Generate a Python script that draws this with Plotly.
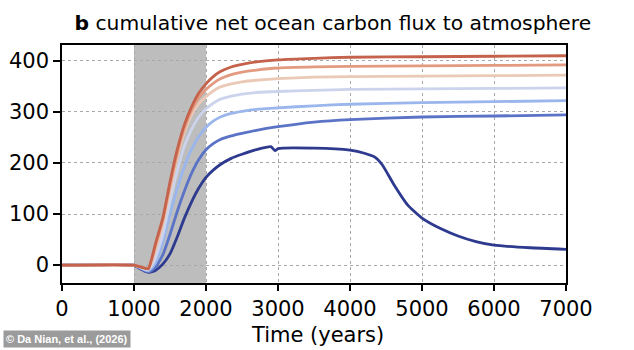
import plotly.graph_objects as go

time = [0, 1000, 1050, 1100, 1150, 1200, 1250, 1300, 1400, 1500, 1600, 1700, 1800, 1900,
        2000, 2100, 2200, 2350, 2500, 2700, 3000, 3500, 4000, 5000, 6000, 7000]

red = [0, 0, -2, -4, -6, -7, 15, 43, 92, 163, 226, 275, 310, 337,
       355, 369, 379, 388, 393, 398, 402, 405, 407, 408, 409, 410]
salmon = [0, 0, -2, -4, -6, -7, 12, 38, 88, 155, 218, 268, 303, 328,
          344, 356, 365, 373, 378, 382, 386, 388, 389, 390, 391, 392]
peach = [0, 0, -2, -4, -6, -7, 8, 30, 80, 145, 210, 260, 294, 316,
         330, 341, 349, 355, 359, 362, 365, 368, 369, 370, 371, 372]
lavender = [0, 0, -2, -5, -8, -9, 0, 15, 60, 125, 185, 233, 266, 290,
            306, 317, 325, 331, 335, 338, 340, 342, 344, 345, 346, 347]
lightblue = [0, 0, -3, -6, -9, -11, -5, 5, 45, 100, 150, 193, 227, 252,
             270, 282, 290, 297, 301, 305, 308, 312, 315, 318, 320, 322]
medblue = [0, 0, -3, -7, -11, -13, -10, -4, 20, 60, 105, 145, 180, 207,
           226, 238, 246, 253, 258, 264, 271, 280, 285, 290, 292, 294]

navy_time = [0, 1000, 1050, 1100, 1150, 1200, 1250, 1300, 1400, 1500, 1600, 1700, 1800, 1900,
             2000, 2100, 2200, 2350, 2500, 2700, 2900, 2960, 3000, 3500, 4000, 4200, 4350,
             4450, 4600, 4800, 5000, 5250, 5500, 5750, 6000, 6500, 7000]
navy = [0, 0, -4, -8, -12, -14, -13, -10, 2, 22, 55, 92, 124, 151,
        172, 186, 197, 209, 217, 226, 232, 224, 228, 229, 225, 219, 211,
        196, 160, 118, 92, 72, 57, 46, 39, 34, 31]

series = [
    ("navy", navy_time, navy, "#2d3a8e"),
    ("medblue", time, medblue, "#5b73c6"),
    ("lightblue", time, lightblue, "#9ab6ec"),
    ("lavender", time, lavender, "#cbd4ec"),
    ("peach", time, peach, "#ebc9b7"),
    ("salmon", time, salmon, "#e29a80"),
    ("red", time, red, "#c4624c"),
]

x_ticks = [0, 1000, 2000, 3000, 4000, 5000, 6000, 7000]
y_ticks = [0, 100, 200, 300, 400]

fig = go.Figure()
for name, xs, ys, col in series:
    fig.add_trace(go.Scatter(x=xs, y=ys, mode="lines", name=name,
                             line=dict(color=col, width=2.8, shape="spline", smoothing=0.5),
                             showlegend=False))

fig.add_shape(type="rect", xref="x", yref="paper", x0=1000, x1=2000, y0=0, y1=1,
              fillcolor="#bdbdbd", line=dict(width=0), layer="below")

font = "DejaVu Sans"
fig.update_layout(
    width=634, height=350,
    margin=dict(l=62, r=68, t=45, b=67),
    paper_bgcolor="white", plot_bgcolor="white",
    font=dict(family=font, size=21, color="black"),
    title=dict(text="<b>b</b> cumulative net ocean carbon flux to atmosphere",
               x=0.525, xanchor="center", y=0.935, yanchor="middle",
               font=dict(family=font, size=20.3, color="black")),
)
fig.update_xaxes(range=[0, 7000], tickvals=x_ticks, ticktext=[str(v) for v in x_ticks],
                 showgrid=True, gridcolor="#a8a8a8", griddash="3px,3px", gridwidth=1,
                 showline=True, linecolor="black", linewidth=1.6, mirror=True,
                 ticks="outside", ticklen=6, tickwidth=1.5, tickcolor="black",
                 zeroline=False, tickfont=dict(size=21), automargin=False)
fig.update_yaxes(range=[-35, 431], tickvals=y_ticks, ticktext=[str(v) for v in y_ticks],
                 showgrid=True, gridcolor="#a8a8a8", griddash="3px,3px", gridwidth=1,
                 showline=True, linecolor="black", linewidth=1.6, mirror=True,
                 ticks="outside", ticklen=7, tickwidth=1.5, tickcolor="black",
                 zeroline=False, tickfont=dict(size=21), automargin=False)

fig.add_annotation(text="Time (years)", xref="paper", yref="paper",
                   x=(317 - 62) / 504, y=-52 / 238, xanchor="center", yanchor="middle",
                   showarrow=False, font=dict(family=font, size=21, color="black"))

fig.add_annotation(text="<b>© Da Nian, et al., (2026)</b>", xref="paper", yref="paper",
                   x=-62/504, y=-67/238, xanchor="left", yanchor="bottom",
                   xshift=3, yshift=2, showarrow=False,
                   font=dict(family="Liberation Sans Narrow, Liberation Sans", size=11, color="white"),
                   bgcolor="#9b9b9b", borderpad=2)

fig.write_html("out.html")
